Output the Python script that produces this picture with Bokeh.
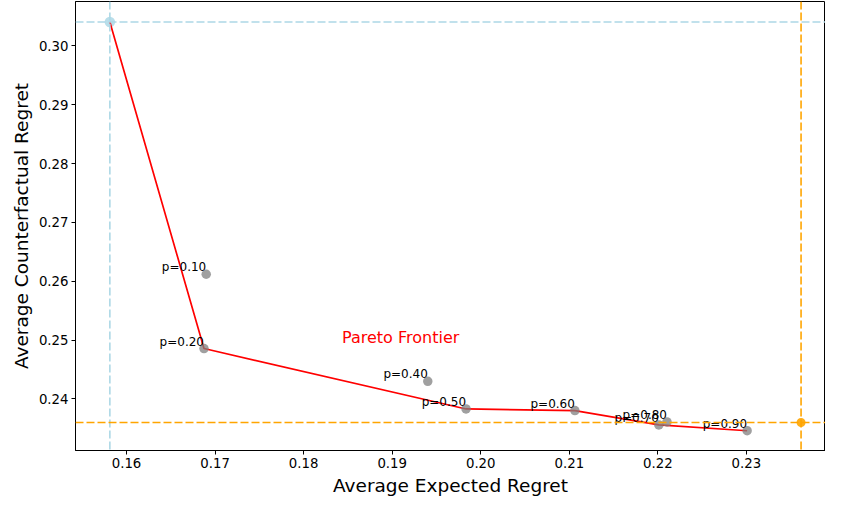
from bokeh.plotting import figure
from bokeh.models import Span, FixedTicker, NumeralTickFormatter, ColumnDataSource, Range1d
from bokeh.core.properties import value
from bokeh.embed import file_html
from bokeh.resources import INLINE

# ---- data ----
p_labels = ["p=0.10", "p=0.20", "p=0.40", "p=0.50", "p=0.60", "p=0.70", "p=0.80", "p=0.90"]
expected_regret = [0.16900, 0.16875, 0.19402, 0.19834, 0.21063, 0.22011, 0.22103, 0.23008]
counterfactual_regret = [0.26119, 0.24856, 0.24298, 0.23829, 0.23801, 0.23558, 0.23608, 0.23459]

frontier_x = [0.15812, 0.16875, 0.19834, 0.21063, 0.22011, 0.23008]
frontier_y = [0.30407, 0.24856, 0.23829, 0.23801, 0.23558, 0.23459]

ref_blue = (0.15812, 0.30407)
ref_orange = (0.23617, 0.23598)

x_ticks = [0.16, 0.17, 0.18, 0.19, 0.20, 0.21, 0.22, 0.23]
y_ticks = [0.24, 0.25, 0.26, 0.27, 0.28, 0.29, 0.30]

FONT = "DejaVu Sans"

p = figure(width=825, height=498, output_backend="svg", toolbar_location=None,
           x_range=Range1d(0.15424, 0.23893), y_range=Range1d(0.23123, 0.30755),
           min_border_left=75, min_border_right=0, min_border_top=1, min_border_bottom=44)
p.grid.visible = False
p.outline_line_color = "black"
p.outline_line_alpha = 1
p.outline_line_width = 1
p.background_fill_color = "white"
p.border_fill_color = "white"

for ax, ticks, label in ((p.xaxis[0], x_ticks, "Average Expected Regret"),
                         (p.yaxis[0], y_ticks, "Average Counterfactual Regret")):
    ax.ticker = FixedTicker(ticks=ticks)
    ax.formatter = NumeralTickFormatter(format="0.00")
    ax.axis_label = label
    ax.axis_label_text_font = FONT
    ax.axis_label_text_font_size = "18.5px"
    ax.axis_label_text_font_style = "normal"
    ax.axis_label_text_color = "black"
    ax.major_label_text_font = FONT
    ax.major_label_text_font_size = "13.3px"
    ax.major_label_text_color = "black"
    ax.major_tick_out = 4
    ax.major_tick_in = 0
    ax.minor_tick_out = 0
    ax.minor_tick_in = 0
    ax.axis_line_color = "black"
    ax.major_tick_line_color = "black"
    ax.major_label_standoff = 3
    ax.axis_label_standoff = 4

# reference lines
p.add_layout(Span(location=ref_blue[0], dimension="height", line_color="#add8e6",
                  line_dash="8 3", line_width=1.6))
p.add_layout(Span(location=ref_blue[1], dimension="width", line_color="#add8e6",
                  line_dash="8 3", line_width=1.6))
p.add_layout(Span(location=ref_orange[0], dimension="height", line_color="orange",
                  line_dash="8 3", line_width=1.6))
p.add_layout(Span(location=ref_orange[1], dimension="width", line_color="orange",
                  line_dash="8 3", line_width=1.6))

p.scatter([ref_blue[0]], [ref_blue[1]], size=10.5, color="#add8e6", alpha=0.85, line_color=None)
p.scatter([ref_orange[0]], [ref_orange[1]], size=9, color="orange", alpha=0.9, line_color=None)

# Pareto frontier
p.line(frontier_x, frontier_y, line_color="red", line_width=1.7)

src = ColumnDataSource(dict(x=expected_regret, y=counterfactual_regret, label=p_labels))
p.scatter("x", "y", source=src, size=9.5, color="gray", alpha=0.75, line_color=None)
p.text("x", "y", text="label", source=src, text_align="right", text_baseline="bottom",
       text_font=value(FONT), text_font_size="12px", text_color="black")

p.text([0.19096], [0.25043], text=["Pareto Frontier"], text_align="center",
       text_baseline="alphabetic", text_font=value(FONT), text_font_size="16px",
       text_color="red")

open("out.html", "w").write(file_html(p, INLINE))
